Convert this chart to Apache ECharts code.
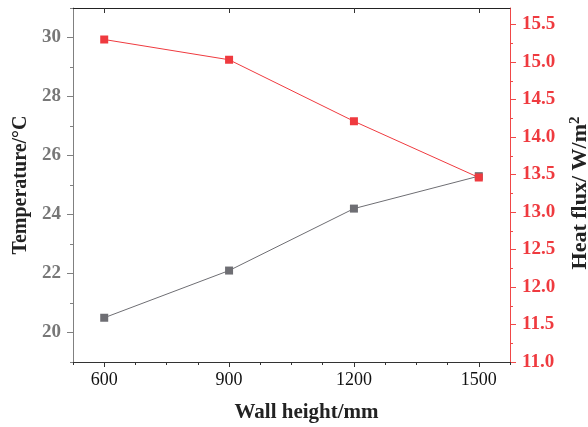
<!DOCTYPE html>
<html>
<head>
<meta charset="utf-8">
<script src="https://cdn.jsdelivr.net/npm/echarts@6/dist/echarts.min.js"></script>
<style>
  html, body { margin: 0; padding: 0; background: #fff; }
  #chart { width: 588px; height: 427px; }
</style>
</head>
<body>
<div id="chart"></div>
<script>
// wall height (mm)
const wallHeight = [600, 900, 1200, 1500];
// temperature (°C), left axis
const temperature = [20.5, 22.1, 24.2, 25.3];
// heat flux (W/m2), right axis
const heatFlux = [15.3, 15.03, 14.21, 13.46];

const xMajor = [600, 900, 1200, 1500];
const xMinor = [525, 675, 750, 825, 975, 1050, 1125, 1275, 1350, 1425, 1575];
const tempMajor = [20, 22, 24, 26, 28, 30];
const tempMinor = [19, 21, 23, 25, 27, 29, 31];
const fluxMajor = [11.0, 11.5, 12.0, 12.5, 13.0, 13.5, 14.0, 14.5, 15.0, 15.5];
const fluxMinor = [11.25, 11.75, 12.25, 12.75, 13.25, 13.75, 14.25, 14.75, 15.25];

const grayColor = '#6e6e73';
const redColor = '#ef3a3f';
const serif = '"Liberation Serif", "Times New Roman", serif';

const chart = echarts.init(document.getElementById('chart'));

// 축 하나에 tick 길이가 하나뿐이라서 major/minor 축을 겹쳐서 그림
const option = {
    animation: false,
    grid: { left: 73, right: 78, top: 8, bottom: 65, outerBoundsMode: 'none', containLabel: false },
    xAxis: [
        {
            type: 'value', position: 'bottom', min: 525, max: 1575,
            name: 'Wall height/mm', nameLocation: 'middle', nameGap: 40,
            nameTextStyle: { fontFamily: serif, fontSize: 21, fontWeight: 'bold', color: '#222', padding: [0, 0, 0, 30] },
            axisLine: { lineStyle: { color: '#333', width: 1 } },
            axisTick: { customValues: xMajor, length: 5, lineStyle: { color: '#333' } },
            axisLabel: { customValues: xMajor, margin: 9, fontFamily: serif, fontSize: 18, color: '#111', formatter: v => String(v) },
            splitLine: { show: false }
        },
        {
            type: 'value', position: 'bottom', min: 525, max: 1575,
            axisLine: { show: false },
            axisTick: { customValues: xMinor, length: 3, lineStyle: { color: '#333' } },
            axisLabel: { show: false },
            splitLine: { show: false }
        },
        {
            type: 'value', position: 'top', min: 525, max: 1575,
            axisLine: { lineStyle: { color: '#222', width: 1 } },
            axisTick: { customValues: xMajor, inside: true, length: 5, lineStyle: { color: '#333' } },
            axisLabel: { show: false },
            splitLine: { show: false }
        }
    ],
    yAxis: [
        {
            type: 'value', position: 'left', min: 19, max: 31,
            name: 'Temperature/°C', nameLocation: 'middle', nameGap: 42, nameRotate: 90,
            nameTextStyle: { fontFamily: serif, fontSize: 20, fontWeight: 'bold', color: '#222' },
            axisLine: { lineStyle: { color: '#808080', width: 1 } },
            axisTick: { customValues: tempMajor, length: 6, lineStyle: { color: '#808080' } },
            axisLabel: { customValues: tempMajor, margin: 12, fontFamily: serif, fontSize: 19, fontWeight: 'bold', color: '#777' },
            splitLine: { show: false }
        },
        {
            type: 'value', position: 'left', min: 19, max: 31,
            axisLine: { show: false },
            axisTick: { customValues: tempMinor, length: 3, lineStyle: { color: '#808080' } },
            axisLabel: { show: false },
            splitLine: { show: false }
        },
        {
            type: 'value', position: 'right', min: 11, max: 15.72,
            name: '{n|Heat flux/ W/m}{s|2}', nameLocation: 'middle', nameGap: 58, nameRotate: 90,
            nameTextStyle: {
                padding: [0, 16, 0, 0],
                rich: {
                    n: { fontFamily: serif, fontSize: 22, fontWeight: 'bold', color: '#222' },
                    s: { fontFamily: serif, fontSize: 15, fontWeight: 'bold', color: '#222', verticalAlign: 'top', padding: [0, 0, 10, 0] }
                }
            },
            axisLine: { lineStyle: { color: '#f04848', width: 1 } },
            axisTick: { customValues: fluxMajor, length: 6, lineStyle: { color: '#f04848' } },
            axisLabel: {
                customValues: fluxMajor, margin: 12, fontFamily: serif, fontSize: 19, fontWeight: 'bold', color: redColor,
                formatter: v => v.toFixed(1)
            },
            splitLine: { show: false }
        },
        {
            type: 'value', position: 'right', min: 11, max: 15.72,
            axisLine: { show: false },
            axisTick: { customValues: fluxMinor, length: 3, lineStyle: { color: '#f04848' } },
            axisLabel: { show: false },
            splitLine: { show: false }
        }
    ],
    series: [
        {
            name: 'Temperature', type: 'line', xAxisIndex: 0, yAxisIndex: 0,
            data: wallHeight.map((x, i) => [x, temperature[i]]),
            symbol: 'rect', symbolSize: 8,
            lineStyle: { color: grayColor, width: 1 },
            itemStyle: { color: grayColor }
        },
        {
            name: 'Heat flux', type: 'line', xAxisIndex: 0, yAxisIndex: 2,
            data: wallHeight.map((x, i) => [x, heatFlux[i]]),
            symbol: 'rect', symbolSize: 8,
            lineStyle: { color: redColor, width: 1 },
            itemStyle: { color: redColor }
        }
    ]
};

chart.setOption(option);
</script>
</body>
</html>
